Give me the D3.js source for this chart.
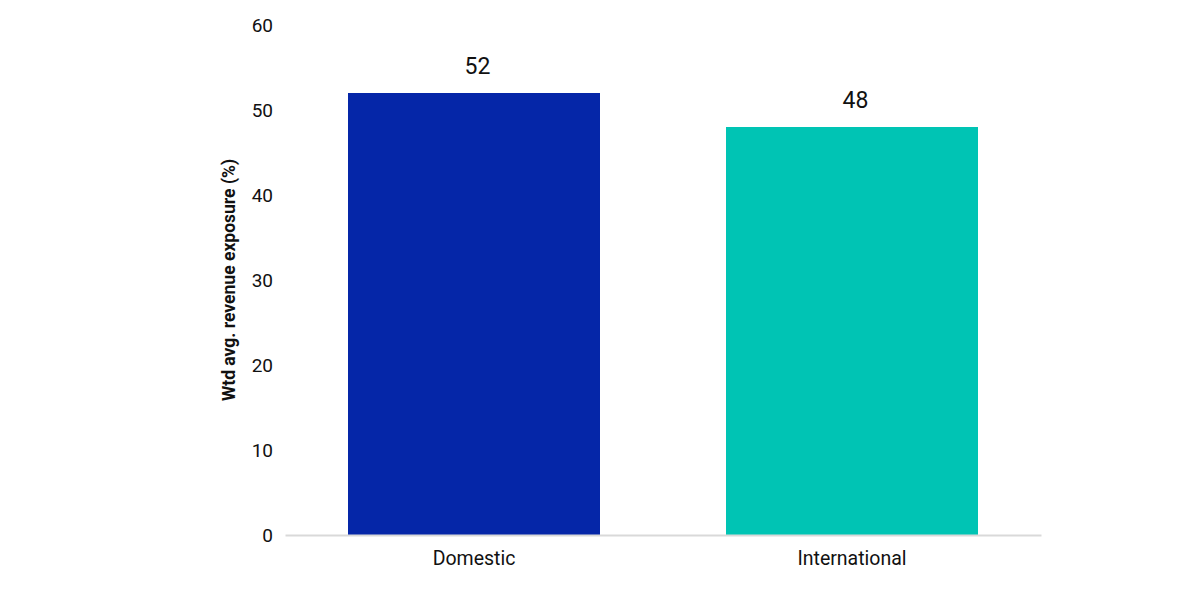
<!DOCTYPE html>
<html>
<head>
<meta charset="utf-8">
<script src="https://cdn.jsdelivr.net/npm/d3@7"></script>
<style>
  body { margin: 0; background: #fff; }
  text { font-family: Roboto, "Noto Sans", sans-serif; }
</style>
</head>
<body>
<svg id="chart" width="1200" height="600"></svg>
<script>
// chart data
var categories = ["Domestic", "International"];
var values = [52, 48];
var colors = ["#0526A8", "#00C4B4"];
var yTicks = [0, 10, 20, 30, 40, 50, 60];

var svg = d3.select("#chart");

var margin = {top: 25, right: 159, bottom: 65, left: 285},
    width = 1200 - margin.left - margin.right,
    height = 600 - margin.top - margin.bottom;

var g = svg.append("g")
    .attr("transform", "translate(" + margin.left + "," + margin.top + ")");

// x scale
var x = d3.scaleBand()
    .domain(categories)
    .range([0, width])
    .paddingInner(1 / 3)
    .paddingOuter(1 / 6);

// y scale
var y = d3.scaleLinear()
    .domain([0, 60])
    .range([height, 0]);

// y axis, no line, no ticks
var yAxis = g.append("g")
    .call(d3.axisLeft(y).tickValues(yTicks).tickSize(0).tickPadding(12));
yAxis.select(".domain").remove();
yAxis.selectAll("text")
    .style("font-size", "19px")
    .style("fill", "#111");

// bars
g.selectAll(".bar")
    .data(values)
    .enter()
    .append("rect")
      .attr("class", "bar")
      .attr("x", function (d, i) { return x(categories[i]); })
      .attr("y", function (d) { return y(d); })
      .attr("width", x.bandwidth())
      .attr("height", function (d) { return height - y(d); })
      .style("fill", function (d, i) { return colors[i]; });

// value labels
g.selectAll(".val")
    .data(values)
    .enter()
    .append("text")
      .attr("class", "val")
      .attr("x", function (d, i) { return x(categories[i]) + x.bandwidth() / 2 + 3.5; })
      .attr("y", function (d) { return y(d) - 19; })
      .attr("text-anchor", "middle")
      .style("font-size", "23px")
      .style("fill", "#111")
      .text(function (d) { return d; });

// x axis baseline + labels
var xAxis = g.append("g")
    .attr("transform", "translate(0," + height + ")")
    .call(d3.axisBottom(x).tickSize(0).tickPadding(16));
xAxis.select(".domain")
    .style("stroke", "#d9d9d9")
    .style("stroke-width", 2);
xAxis.selectAll("text")
    .style("font-size", "19.5px")
    .style("fill", "#111");

// y axis title
svg.append("text")
    .attr("transform", "translate(235," + (margin.top + height / 2) + ")rotate(-90)")
    .attr("text-anchor", "middle")
    .style("font-size", "17.5px")
    .style("font-weight", "bold")
    .style("fill", "#111")
    .text("Wtd avg. revenue exposure (%)");
</script>
</body>
</html>
